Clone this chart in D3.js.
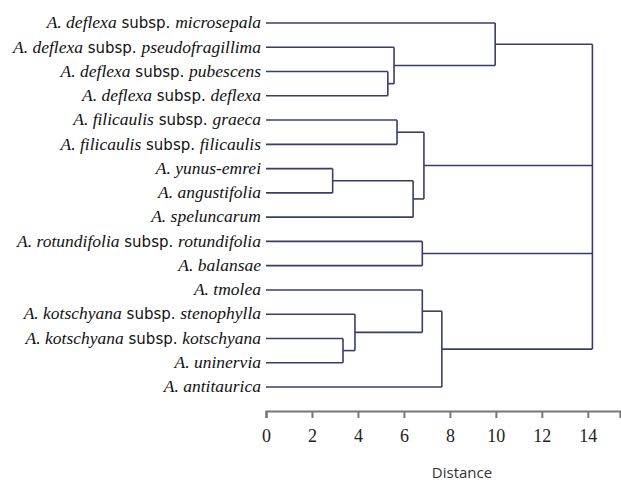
<!DOCTYPE html>
<html>
<head>
<meta charset="utf-8">
<script src="https://cdn.jsdelivr.net/npm/d3@7"></script>
<style>
  body { margin: 0; background: #fff; }
  svg { display: block; }
</style>
</head>
<body>
<svg id="chart" width="621" height="485"></svg>
<script>
// leaf labels, top to bottom: [genus abbrev + species, subsp. name or null]
const leafSpecies = [
  "A. deflexa", "A. deflexa", "A. deflexa", "A. deflexa",
  "A. filicaulis", "A. filicaulis", "A. yunus-emrei", "A. angustifolia",
  "A. speluncarum", "A. rotundifolia", "A. balansae", "A. tmolea",
  "A. kotschyana", "A. kotschyana", "A. uninervia", "A. antitaurica"
];
const leafSubsp = [
  "microsepala", "pseudofragillima", "pubescens", "deflexa",
  "graeca", "filicaulis", null, null,
  null, "rotundifolia", null, null,
  "stenophylla", "kotschyana", null, null
];

// merges: node id = 16 + index; children are leaf or node ids
const mergeChildren = [
  [2, 3],          // 16
  [1, 16],         // 17
  [0, 17],         // 18  deflexa group
  [4, 5],          // 19
  [6, 7],          // 20
  [20, 8],         // 21
  [19, 21],        // 22  filicaulis group
  [9, 10],         // 23  rotundifolia group
  [13, 14],        // 24
  [12, 24],        // 25
  [11, 25],        // 26
  [26, 15],        // 27  kotschyana group
  [18, 22, 23, 27] // 28  root
];
const mergeDistance = [5.3, 5.57, 9.97, 5.7, 2.9, 6.4, 6.87, 6.8, 3.35, 3.87, 6.8, 7.65, 14.2];

const tickValues = [0, 2, 4, 6, 8, 10, 12, 14];
const axisTitle = "Distance";

const svg = d3.select("#chart");
const lineColor = "#3a3d6c";

const x = d3.scaleLinear().domain([0, 15.4]).range([266, 620]);
const y = d3.scaleLinear().domain([0, leafSpecies.length - 1]).range([23, 387]);

// node positions
const nLeaves = leafSpecies.length;
const pos = {};
leafSpecies.forEach((_d, i) => { pos[i] = { x: x(0), y: y(i) }; });
mergeChildren.forEach((kids, i) => {
  const ys = kids.map((k) => pos[k].y);
  pos[nLeaves + i] = { x: x(mergeDistance[i]), y: (d3.min(ys) + d3.max(ys)) / 2 };
});

const tree = svg.append("g")
  .attr("fill", "none")
  .attr("stroke", lineColor)
  .attr("stroke-width", 1.6);

mergeChildren.forEach((kids, i) => {
  const node = pos[nLeaves + i];
  const ys = kids.map((k) => pos[k].y);
  // vertical
  tree.append("line")
    .attr("x1", node.x).attr("x2", node.x)
    .attr("y1", d3.min(ys)).attr("y2", d3.max(ys));
  // horizontals from children
  kids.forEach((k) => {
    tree.append("line")
      .attr("x1", pos[k].x).attr("x2", node.x)
      .attr("y1", pos[k].y).attr("y2", pos[k].y);
  });
});

// leaf labels
const labels = svg.append("g")
  .attr("text-anchor", "end")
  .attr("fill", "#111");

leafSpecies.forEach((sp, i) => {
  const t = labels.append("text")
    .attr("x", 261)
    .attr("y", y(i))
    .attr("dy", "0.3em")
    .style("font-size", "17.5px");
  t.append("tspan")
    .style("font-family", "'Liberation Serif', serif")
    .style("font-style", "italic")
    .text(sp);
  if (leafSubsp[i]) {
    t.append("tspan")
      .style("font-family", "'DejaVu Sans', Verdana, sans-serif")
      .style("font-size", "15px")
      .text(" subsp. ");
    t.append("tspan")
      .style("font-family", "'Liberation Serif', serif")
      .style("font-style", "italic")
      .text(leafSubsp[i]);
  }
});

// axis
const axis = svg.append("g")
  .attr("transform", "translate(0, 411)")
  .call(d3.axisBottom(x).tickValues(tickValues).tickSizeOuter(0).tickSize(7).tickPadding(11));

axis.select(".domain").attr("stroke", "#777").attr("stroke-width", 2.2);
axis.selectAll(".tick line").attr("stroke", "#777").attr("stroke-width", 2);
axis.selectAll(".tick text")
  .attr("fill", "#222")
  .style("font-family", "'Liberation Serif', serif")
  .style("font-size", "18px");

svg.append("text")
  .attr("x", 462)
  .attr("y", 473)
  .attr("dy", "0.32em")
  .attr("text-anchor", "middle")
  .attr("fill", "#333")
  .style("font-family", "'Open Sans', 'DejaVu Sans', sans-serif")
  .style("font-size", "15px")
  .text(axisTitle);
</script>
</body>
</html>
